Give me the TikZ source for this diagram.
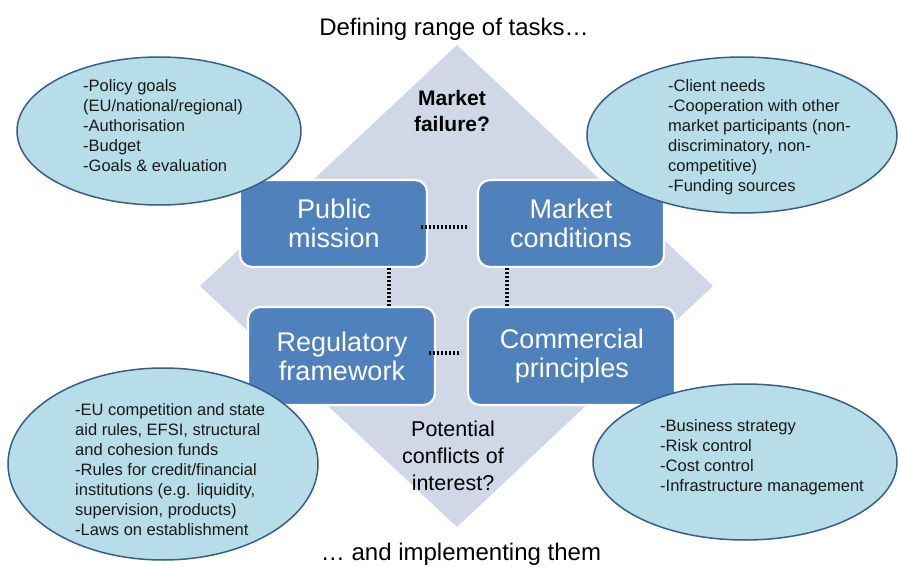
\documentclass[tikz,border=0pt]{standalone}
\usepackage{fontspec}
\setmainfont{Liberation Sans}
\definecolor{diamondfill}{HTML}{D0D8E8}
\definecolor{boxfill}{HTML}{4F81BD}
\definecolor{ellfill}{HTML}{B7DDE8}
\definecolor{elldraw}{HTML}{385D8A}
\begin{document}
\begin{tikzpicture}[x=1pt,y=-1pt,
  bluebox/.style={fill=boxfill,draw=white,line width=2.2pt,rounded corners=12pt},
  boxtext/.style={text=white,font=\fontsize{27}{29}\selectfont,align=center,inner sep=0pt},
  ellbox/.style={fill=ellfill,draw=elldraw,line width=1.5pt},
  elltext/.style={font=\fontsize{16.5}{20}\selectfont,align=left,anchor=north west,inner sep=0pt,text=black!90},
  dotline/.style={line width=3.4pt,dash pattern=on 2.4pt off 1.6pt,black}]
\useasboundingbox (0,0) rectangle (898,567);
% diamond
\fill[diamondfill] (457,45) -- (713,286) -- (457,527) -- (200,286) -- cycle;
% boxes
\draw[bluebox] (240,180) rectangle (427,267);
\draw[bluebox] (478,180) rectangle (664,267);
\draw[bluebox] (248,307) rectangle (435,405);
\draw[bluebox] (468,307) rectangle (675,405);
\node[boxtext] (pm) at (334,223) {Public\\mission};
\node[boxtext] (mc) at (571,223) {Market\\conditions};
\node[boxtext] (rf) at (342,356) {Regulatory\\framework};
\node[boxtext] (cp) at (572,356) {Commercial\\principles};
% dotted connectors
\coordinate (h1a) at (421,227); \coordinate (h1b) at (469,227);
\coordinate (h2a) at (429,353); \coordinate (h2b) at (461,353);
\coordinate (v1a) at (389,268); \coordinate (v1b) at (389,306);
\coordinate (v2a) at (507,268); \coordinate (v2b) at (507,306);
\draw[dotline] (h1a) -- (h1b);
\draw[dotline] (h2a) -- (h2b);
\draw[dotline] (v1a) -- (v1b);
\draw[dotline] (v2a) -- (v2b);
% ellipses
\draw[ellbox] (159,131) ellipse [x radius=142, y radius=74];
\draw[ellbox] (742,135) ellipse [x radius=155, y radius=78];
\draw[ellbox] (163,464) ellipse [x radius=155, y radius=96];
\draw[ellbox] (745,462) ellipse [x radius=152, y radius=78];
\node[elltext] (t1) at (83,79) {-Policy goals\\(EU/national/regional)\\-Authorisation\\-Budget\\-Goals \& evaluation};
\node[elltext] (t2) at (668,79) {-Client needs\\-Cooperation with other\\market participants (non-\\discriminatory, non-\\competitive)\\-Funding sources};
\node[elltext] (t3) at (75,403) {-EU competition and state\\aid rules, EFSI, structural\\and cohesion funds\\-Rules for credit/financial\\institutions (e.g. liquidity,\\supervision, products)\\-Laws on establishment};
\node[elltext] (t4) at (660,419) {-Business strategy\\-Risk control\\-Cost control\\-Infrastructure management};
% diamond labels
\node[font=\bfseries\fontsize{21}{26}\selectfont,align=center,inner sep=0pt] (mf) at (452,111) {Market\\failure?};
\node[font=\fontsize{21.5}{27}\selectfont,align=center,inner sep=0pt] (pc) at (453,456) {Potential\\conflicts of\\interest?};
% titles
\node[font=\fontsize{24}{28}\selectfont,inner sep=0pt] (top) at (454,29) {Defining range of tasks…};
\node[font=\fontsize{24}{28}\selectfont,inner sep=0pt] (bot) at (461,554) {… and implementing them};
\end{tikzpicture}
\end{document}
